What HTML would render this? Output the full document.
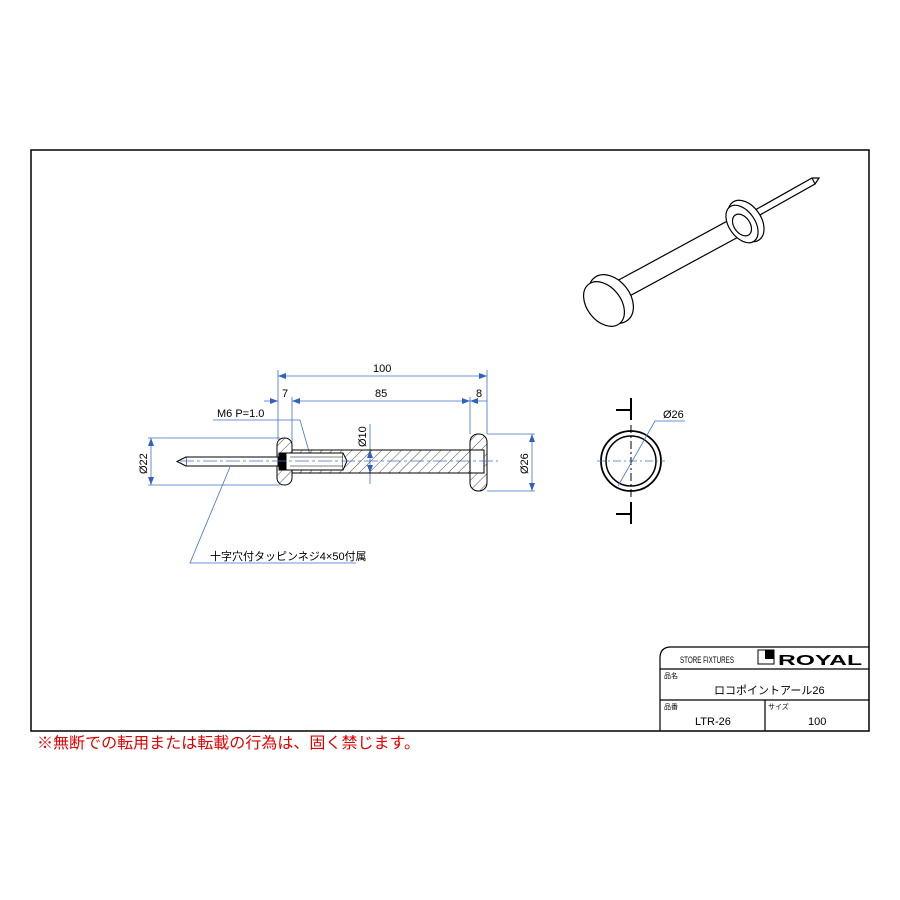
<!DOCTYPE html>
<html><head><meta charset="utf-8"><style>
html,body{margin:0;padding:0;background:#fff;width:900px;height:900px;overflow:hidden}
svg{display:block}
text{font-family:"Liberation Sans","Noto Sans CJK JP",sans-serif}
</style></head><body>
<svg width="900" height="900" viewBox="0 0 900 900" xmlns="http://www.w3.org/2000/svg">
<defs>
<pattern id="h" width="7" height="7" patternUnits="userSpaceOnUse" patternTransform="rotate(45)">
<line x1="0" y1="0" x2="0" y2="7" stroke="#222" stroke-width="0.8"/>
</pattern>
<marker id="a" markerWidth="8" markerHeight="6" refX="8" refY="3" orient="auto-start-reverse" markerUnits="userSpaceOnUse"><path d="M0,0 L8,3 L0,6z" fill="#3060c0"/></marker>
</defs>
<rect x="31" y="150" width="838" height="581" fill="none" stroke="#000" stroke-width="1.5"/>

<g stroke="#4070c8" stroke-width="0.8" fill="none">
<line x1="278" y1="370" x2="278" y2="440"/><line x1="487" y1="370" x2="487" y2="434"/>
<line x1="278" y1="376" x2="487" y2="376" marker-start="url(#a)" marker-end="url(#a)"/>
<line x1="292" y1="397" x2="292" y2="452"/><line x1="470" y1="397" x2="470" y2="434"/>
<line x1="264" y1="401" x2="278" y2="401" marker-end="url(#a)"/>
<line x1="292" y1="401" x2="470" y2="401" marker-start="url(#a)" marker-end="url(#a)"/>
<line x1="470" y1="401" x2="487" y2="401" marker-start="url(#a)"/>
<polyline points="213,420 300,420 310,455"/>
<line x1="148" y1="438" x2="280" y2="438"/><line x1="148" y1="485" x2="280" y2="485"/>
<line x1="151" y1="438" x2="151" y2="485" marker-start="url(#a)" marker-end="url(#a)"/>
<line x1="487" y1="434" x2="535" y2="434"/><line x1="487" y1="491" x2="535" y2="491"/>
<line x1="532" y1="434" x2="532" y2="491" marker-start="url(#a)" marker-end="url(#a)"/>
<line x1="370" y1="424" x2="370" y2="450"/>
<line x1="370" y1="450" x2="370" y2="473" marker-start="url(#a)" marker-end="url(#a)"/>
<line x1="370" y1="473" x2="370" y2="484"/>
<polyline points="230,467 190,563 356,563"/>
</g>

<g stroke="#000" stroke-width="1">
<rect x="292" y="450" width="178" height="23" fill="url(#h)"/>
<rect x="277" y="438" width="15" height="47" rx="7" fill="url(#h)"/>
<rect x="470" y="434" width="17" height="57" rx="8" fill="url(#h)"/>
<rect x="284" y="453" width="59" height="17" fill="#fff"/>
<path d="M343,453 L347,461 L343,470" fill="#fff"/>
<rect x="470" y="450" width="14" height="23" fill="#fff"/>
<line x1="290" y1="457" x2="343" y2="457" stroke-width="0.5"/><line x1="290" y1="466" x2="343" y2="466" stroke-width="0.5"/>
<rect x="186" y="457" width="92" height="9" fill="#fff"/>
<path d="M186,457 L177,461.5 L186,466" fill="#fff"/>
<rect x="279" y="453" width="7" height="17" fill="#000"/>
</g>
<line x1="180" y1="461" x2="498" y2="461" stroke="#4070c8" stroke-width="0.8" stroke-dasharray="14,3,3,3"/>
<g font-size="11" fill="#000">
<text x="373" y="372">100</text><text x="282" y="397">7</text><text x="375" y="397">85</text><text x="476" y="397">8</text>
<text x="217" y="417">M6 P=1.0</text>
<text x="210" y="560">十字穴付タッピンネジ4×50付属</text>
<text transform="translate(147,474) rotate(-90)">Ø22</text>
<text transform="translate(528,474) rotate(-90)">Ø26</text>
<text transform="translate(366,447) rotate(-90)">Ø10</text>
</g>

<circle cx="631" cy="461" r="30" fill="none" stroke="#000" stroke-width="1.8"/>
<circle cx="631" cy="461" r="25" fill="none" stroke="#000" stroke-width="1.5"/>
<g stroke="#000" stroke-width="2">
<line x1="631" y1="398" x2="631" y2="420"/><line x1="631" y1="502" x2="631" y2="524"/>
<line x1="616" y1="410" x2="631" y2="410"/><line x1="616" y1="514" x2="631" y2="514"/>
</g>
<line x1="631" y1="425" x2="631" y2="500" stroke="#000" stroke-dasharray="8,3,2,3"/>
<g stroke="#4070c8" stroke-width="0.8" fill="none">
<line x1="597" y1="461" x2="665" y2="461" stroke-dasharray="8,3,2,3"/>
<polyline points="618,486 655,421 685,421"/>
</g>
<text x="663" y="418" font-size="11">Ø26</text>

<!-- iso -->
<g stroke="#000" stroke-width="1.2" fill="#fff">
<polygon points="748,214 812,178 819,178 815,184 751,220"/>
<line x1="812" y1="178" x2="815" y2="184"/>
<polygon points="615,282 733,218 742,235 624,299"/>
<ellipse cx="746" cy="221" rx="15" ry="23" transform="rotate(-35 746 221)"/>
<ellipse cx="742" cy="224" rx="13" ry="21" transform="rotate(-35 742 224)"/>
<ellipse cx="742" cy="225" rx="8" ry="12" transform="rotate(-35 742 225)"/>
<ellipse cx="611" cy="299" rx="19" ry="27" transform="rotate(-38 611 299)"/>
<ellipse cx="604" cy="304" rx="17" ry="25" transform="rotate(-38 604 304)"/>
</g>

<g stroke="#000" stroke-width="1.2" fill="none">
<path d="M660,731 L660,658 Q660,647 671,647 L869,647"/>
<line x1="660" y1="669" x2="869" y2="669"/><line x1="660" y1="700" x2="869" y2="700"/>
<line x1="765" y1="700" x2="765" y2="731"/>
</g>
<text x="680" y="663" font-size="9" textLength="54" lengthAdjust="spacingAndGlyphs">STORE FIXTURES</text>
<rect x="758" y="650" width="16" height="14" fill="none" stroke="#000"/>
<rect x="765" y="650" width="9" height="9" fill="#000"/>
<text x="778" y="665" font-size="15" font-weight="bold" textLength="84" lengthAdjust="spacingAndGlyphs">ROYAL</text>
<text x="664" y="678" font-size="7">品名</text>
<text x="714" y="694" font-size="11">ロコポイントアール26</text>
<text x="664" y="709" font-size="7">品番</text>
<text x="768" y="709" font-size="7">サイズ</text>
<text x="695" y="725" font-size="11">LTR-26</text>
<text x="808" y="725" font-size="11">100</text>

<text x="37" y="748" font-size="15.5" fill="#e00000" textLength="383" lengthAdjust="spacingAndGlyphs">※無断での転用または転載の行為は、固く禁じます。</text>
</svg>
</body></html>
